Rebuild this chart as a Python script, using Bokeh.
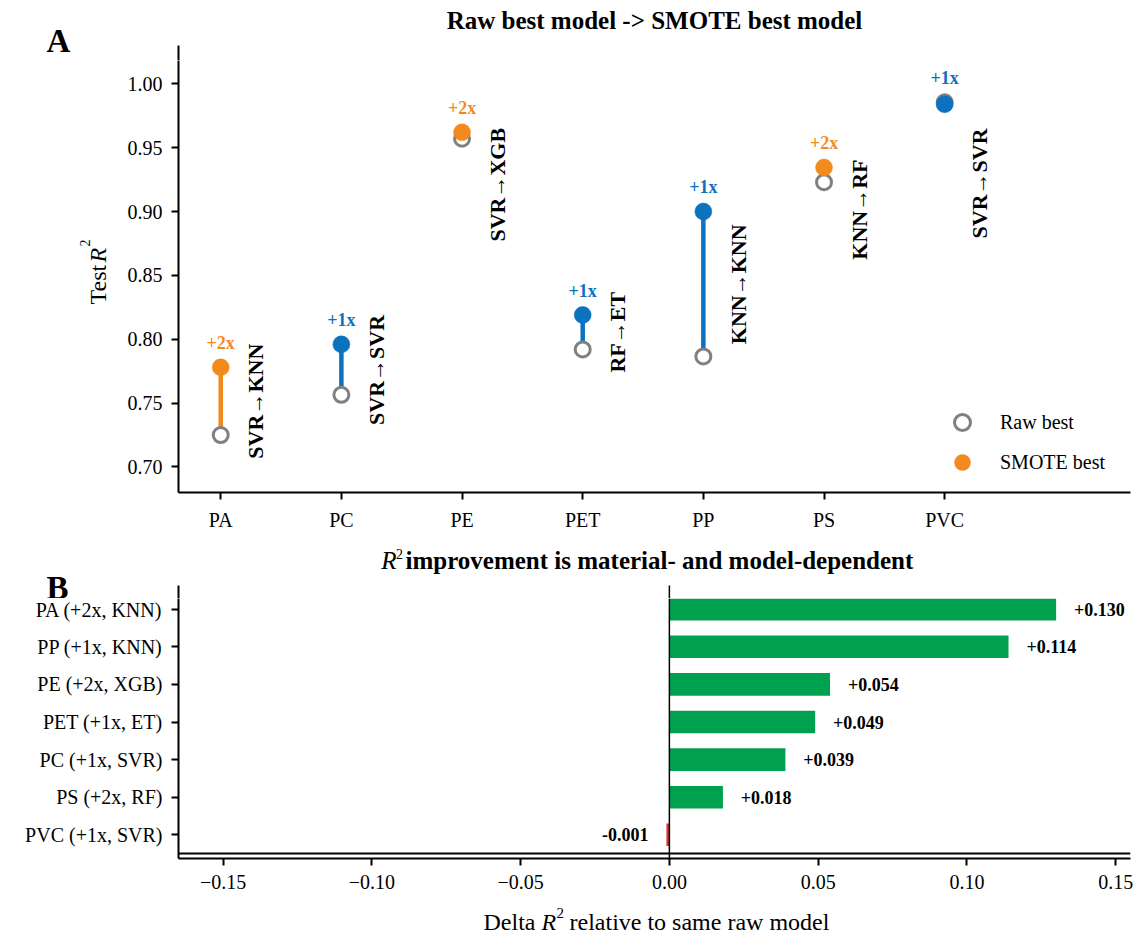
import math
from bokeh.plotting import figure
from bokeh.models import (Range1d, FixedTicker, PrintfTickFormatter, CustomJSTickFormatter,
                          Label, Span, Legend, LegendItem, ColumnDataSource)
from bokeh.layouts import column, row
from bokeh.embed import file_html
from bokeh.resources import INLINE
from bokeh.core.properties import value

# ---------------- data ----------------
materials = ["PA", "PC", "PE", "PET", "PP", "PS", "PVC"]
raw_model = ["SVR", "SVR", "SVR", "RF", "KNN", "KNN", "SVR"]
smote_model = ["KNN", "SVR", "XGB", "ET", "KNN", "RF", "SVR"]
smote_factor = [2, 1, 2, 1, 1, 2, 1]
raw_r2 = [0.725, 0.7565, 0.957, 0.792, 0.7865, 0.923, 0.9855]
smote_r2 = [0.778, 0.796, 0.962, 0.819, 0.900, 0.9345, 0.984]
delta_r2 = [0.130, 0.039, 0.054, 0.049, 0.114, 0.018, -0.001]
model_label_y = [0.7515, 0.776, 0.921, 0.8055, 0.843, 0.9015, 0.922]
y_ticks_top = [0.70, 0.75, 0.80, 0.85, 0.90, 0.95, 1.00]
x_ticks_bottom = [-0.15, -0.10, -0.05, 0.0, 0.05, 0.10, 0.15]

# ---------------- style ----------------
SERIF = "Liberation Serif"
FACTOR_COLORS = {1: "#0B72BE", 2: "#F28A1E"}
RAW_COLOR = "#808080"
POS_COLOR = "#00A14E"
NEG_COLOR = "#D9363E"
PAGE_W = 1148
FRAME_L, FRAME_R = 178, 1130          # page x of both panels' plotting frames


def style_axis(ax):
    ax.axis_line_width = 2
    ax.axis_line_color = "black"
    ax.major_tick_line_width = 2
    ax.major_tick_line_color = "black"
    ax.major_tick_out = 7
    ax.major_tick_in = 0
    ax.minor_tick_line_color = None
    ax.major_label_text_font = SERIF
    ax.major_label_text_font_size = "20px"
    ax.major_label_text_color = "black"
    ax.major_label_standoff = 9


def strip(width, height, xr, yr, **borders):
    """Axis-less text strip; ranges are given in page pixels (y flipped)."""
    opts = dict(min_border=0)
    opts.update(borders)
    s = figure(width=width, height=height, x_range=Range1d(*xr), y_range=Range1d(*yr),
               output_backend="svg", toolbar_location=None,
               x_axis_location=None, y_axis_location=None, **opts)
    s.outline_line_color = None
    s.grid.visible = False
    return s


def add_text(p, x, y, text, size, style="normal", align="left", angle=0.0, color="black"):
    p.add_layout(Label(x=x, y=y, text=text, text_font=SERIF, text_font_size=f"{size}px",
                       text_font_style=style, text_align=align, text_baseline="middle",
                       angle=angle, text_color=color))


# ---------------- panel A geometry ----------------
X0, X1 = -0.35, 7.54
Y0, Y1 = 0.68, 1.03
PXU1 = (492 - 45) / (Y1 - Y0)
SPLIT_A = 60                                    # page y where panel A's figure starts
Y1_FRAME = Y1 - (SPLIT_A - 45) / PXU1

# ---------------- title strip A (page y 0..60) ----------------
tA = strip(PAGE_W, SPLIT_A, (0, PAGE_W), (SPLIT_A, 0))
add_text(tA, 654, 20, "Raw best model -> SMOTE best model", 25, style="bold", align="center")
add_text(tA, 58, 40.8, "A", 33, style="bold", align="center")
# upper part of panel A's left spine
tA.segment(x0=[FRAME_L], x1=[FRAME_L], y0=[45], y1=[SPLIT_A], line_color="black", line_width=2)

# ---------------- panel A (page y 60..545) ----------------
p1 = figure(width=PAGE_W - 110, height=545 - SPLIT_A, x_range=Range1d(X0, X1),
            y_range=Range1d(Y0, Y1_FRAME), output_backend="svg", toolbar_location=None,
            min_border_left=FRAME_L - 110, min_border_right=PAGE_W - FRAME_R,
            min_border_top=0, min_border_bottom=545 - 492)
p1.outline_line_color = None
p1.grid.visible = False
for ax in (p1.xaxis[0], p1.yaxis[0]):
    style_axis(ax)
p1.xaxis.ticker = FixedTicker(ticks=list(range(len(materials))))
p1.xaxis.major_label_overrides = {i: m for i, m in enumerate(materials)}
p1.yaxis.ticker = FixedTicker(ticks=y_ticks_top)
p1.yaxis.formatter = PrintfTickFormatter(format="%.2f")

colors = [FACTOR_COLORS[k] for k in smote_factor]
src = ColumnDataSource(dict(
    x=list(range(len(materials))),
    raw=raw_r2,
    smote=smote_r2,
    color=colors,
    tag=[f"+{k}x" for k in smote_factor],
    tag_y=[max(a, b) + 0.019 for a, b in zip(raw_r2, smote_r2)],
    lab=[f"{a}\u2192{b}" for a, b in zip(raw_model, smote_model)],
    lab_x=[i + 0.29 for i in range(len(materials))],
    lab_y=model_label_y,
))

p1.segment(x0="x", y0="raw", x1="x", y1="smote", line_color="color", line_width=4.5, source=src)
r_raw = p1.scatter(x="x", y="raw", size=15, marker="circle", fill_color="white",
                   line_color=RAW_COLOR, line_width=3, source=src)
r_sm = p1.scatter(x="x", y="smote", size=17, marker="circle", fill_color="color",
                  line_color="color", line_width=0.5, source=src)
p1.text(x="x", y="tag_y", text="tag", text_color="color", text_font=value(SERIF),
        text_font_style="bold", text_font_size="18px", text_align="center",
        text_baseline="middle", source=src)
p1.text(x="lab_x", y="lab_y", text="lab", angle=math.pi / 2, text_color="black",
        text_font=value(SERIF), text_font_style="bold", text_font_size="22px",
        text_align="center", text_baseline="middle", source=src)

legend = Legend(items=[LegendItem(label="Raw best", renderers=[r_raw], index=0),
                       LegendItem(label="SMOTE best", renderers=[r_sm], index=0)],
                location=(764, 10), border_line_color=None, background_fill_alpha=0,
                label_text_font=SERIF, label_text_font_size="20px", label_text_color="black",
                glyph_width=40, glyph_height=40, label_height=20, spacing=-10,
                padding=0, margin=0, label_standoff=18)
p1.add_layout(legend)

# left strip beside panel A (frame matches panel A's frame: page y 60..492)
sA = strip(110, 545 - SPLIT_A, (0, 110), (492, SPLIT_A), min_border_bottom=545 - 492)
add_text(sA, 97, 304, "Test", 24, angle=math.pi / 2)
add_text(sA, 97, 262, "R", 24, style="italic", angle=math.pi / 2)
add_text(sA, 84, 246, "2", 14, angle=math.pi / 2)

# ---------------- panel B geometry ----------------
BX0, BX1 = -0.165, 0.155
BY0, BY1 = -0.63, 6.63
SX = (FRAME_R - FRAME_L) / (BX1 - BX0)
PXU2 = (858 - 585) / (BY1 - BY0)
SPLIT_B = 598                                   # page y where panel B's figure starts
BY1_FRAME = BY1 - (SPLIT_B - 585) / PXU2

# ---------------- title strip B (page y 545..598) ----------------
tB = strip(PAGE_W, SPLIT_B - 545, (0, PAGE_W), (SPLIT_B, 545))
add_text(tB, 57, 587.8, "B", 33, style="bold", align="center")
add_text(tB, 396, 560, "R", 25, style="italic", align="right")
add_text(tB, 395.5, 553.5, "2", 14)
add_text(tB, 405, 560, "improvement is material- and model-dependent", 25, style="bold")
# upper part of panel B's left spine and of its zero line
zero_px = FRAME_L + (0.0 - BX0) * SX
tB.segment(x0=[FRAME_L], x1=[FRAME_L], y0=[585], y1=[SPLIT_B], line_color="black", line_width=2)
tB.segment(x0=[zero_px], x1=[zero_px], y0=[585], y1=[SPLIT_B], line_color="black", line_width=1.5)

# ---------------- panel B (page y 598..900) ----------------
p2 = figure(width=PAGE_W, height=900 - SPLIT_B, x_range=Range1d(BX0, BX1),
            y_range=Range1d(BY0, BY1_FRAME), output_backend="svg", toolbar_location=None,
            min_border_left=FRAME_L, min_border_right=PAGE_W - FRAME_R,
            min_border_top=0, min_border_bottom=900 - 858)
p2.outline_line_color = None
p2.grid.visible = False
for ax in (p2.xaxis[0], p2.yaxis[0]):
    style_axis(ax)

order = sorted(range(len(materials)), key=lambda i: -delta_r2[i])
n = len(order)
ypos = [n - 1 - r for r in range(n)]
d_sorted = [delta_r2[i] for i in order]
bar_src = ColumnDataSource(dict(
    y=ypos,
    d=d_sorted,
    color=[POS_COLOR if d >= 0 else NEG_COLOR for d in d_sorted],
    txt=[f"{d:+.3f}" for d in d_sorted],
    tx=[d + 0.006 if d >= 0 else d - 0.006 for d in d_sorted],
    align=["left" if d >= 0 else "right" for d in d_sorted],
))
p2.hbar(y="y", left=0, right="d", height=0.6, fill_color="color", line_color=None, source=bar_src)
p2.text(x="tx", y="y", text="txt", text_align="align", text_baseline="middle",
        text_font=value(SERIF), text_font_style="bold", text_font_size="18px",
        text_color="black", source=bar_src)

p2.add_layout(Span(location=0, dimension="height", line_color="black", line_width=1.5))
p2.add_layout(Span(location=-0.5, dimension="width", line_color="black", line_width=2))

p2.yaxis.ticker = FixedTicker(ticks=ypos)
p2.yaxis.major_label_overrides = {
    y: f"{materials[i]} (+{smote_factor[i]}x, {smote_model[i]})" for y, i in zip(ypos, order)}
p2.xaxis.ticker = FixedTicker(ticks=x_ticks_bottom)
p2.xaxis.formatter = CustomJSTickFormatter(
    code="return (tick < -1e-9 ? '\u2212' : '') + Math.abs(tick).toFixed(2);")

# ---------------- x-label strip (page y 900..940) ----------------
xl = strip(PAGE_W, 40, (0, PAGE_W), (940, 900))
add_text(xl, 483, 921, "Delta", 24)
add_text(xl, 541, 921, "R", 24, style="italic")
add_text(xl, 556, 912, "2", 15)
add_text(xl, 569, 921, "relative to same raw model", 24)

# every full-width strip sits in its own row so that no frame alignment is applied to it
layout = column(row(tA), row(sA, p1), row(tB), row(p2), row(xl))
open("out.html", "w").write(file_html(layout, INLINE))
